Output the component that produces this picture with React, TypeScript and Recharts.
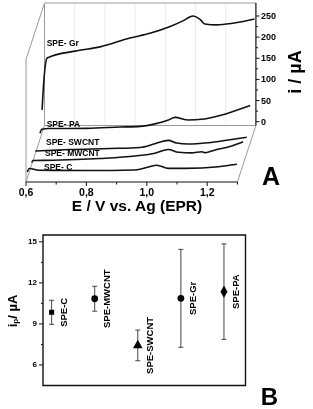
import React from "react";
import {
  LineChart,
  Line,
  XAxis,
  YAxis,
  ReferenceLine,
  ComposedChart,
  Scatter,
  ErrorBar,
  ReferenceArea,
  Symbols,
} from "recharts";

// ---- panel A: voltammograms, E / V and i / µA (each i relative to its own baseline)
const grE = [0.592, 0.598, 0.608, 0.613, 0.701, 0.784, 0.883, 0.949, 1.016, 1.06, 1.091, 1.115, 1.131, 1.17, 1.224, 1.295];
const grI = [28, 98, 150, 152, 167, 177, 198, 209, 225, 239, 250, 242, 231, 229, 233, 243];

const paE = [0.595, 0.601, 0.623, 0.75, 0.86, 0.926, 0.976, 1.02, 1.042, 1.086, 1.131, 1.197, 1.241, 1.291];
const paI = [-6, 3.3, 5.2, 5.7, 8.8, 10.4, 16.3, 25.3, 31.7, 25.3, 27, 37, 47.3, 59.6];

const swE = [0.601, 0.716, 0.848, 0.947, 0.997, 1.041, 1.069, 1.107, 1.173, 1.24, 1.301];
const swI = [-1.2, 2.4, 4.7, 7.1, 16, 24, 17.7, 15.4, 18.4, 24.8, 31.2];

const mwE = [0.6, 0.604, 0.671, 0.826, 0.942, 1.008, 1.052, 1.086, 1.13, 1.163, 1.174, 1.207, 1.262, 1.3];
const mwI = [-4.3, 0.5, 1, 5.2, 11.1, 17.5, 26.3, 19.9, 18.4, 21.3, 18.9, 25.3, 34.8, 44.9];

const cE = [0.597, 0.604, 0.639, 0.794, 0.954, 0.998, 1.026, 1.064, 1.12, 1.23, 1.291];
const cI = [-1.4, 6.9, 2.6, 2.1, 3.3, 10.4, 14.7, 7.3, 7.3, 11.1, 16.8];

const curveNames = ["SPE- Gr", "SPE- PA", "SPE- SWCNT", "SPE- MWCNT", "SPE- C"];
const curveE = [grE, paE, swE, mwE, cE];
const curveI = [grI, paI, swI, mwI, cI];

const eTicks = [0.6, 0.7, 0.8, 0.9, 1.0, 1.1, 1.2, 1.3];
const iTicks = [0, 25, 50, 75, 100, 125, 150, 175, 200, 225, 250];

// ---- panel B: peak currents
const ipNames = ["SPE-C", "SPE-MWCNT", "SPE-SWCNT", "SPE-Gr", "SPE-PA"];
const ipMean = [9.85, 10.84, 7.43, 10.87, 11.36];
const ipErr = [0.88, 0.91, 1.12, 3.58, 3.49];
const ipTicks = [6, 7.5, 9, 10.5, 12, 13.5, 15];

// ---- layout of the pseudo-3D box (pixels)
const PLOT_L = 26;
const PLOT_R = 256;
const PLOT_T = 3;
const PLOT_B = 182;
const TOP_H = 200;
const PX_PER_V = 302;
const PX_PER_UA = 0.4228;
const DEPTH_DX = 18.5;
const DEPTH_DY = 56.5;
const BACK_X0 = 44.5; // 0.6 V on the back wall
const BACK_Y0 = 121.7; // 0 µA on the back wall
const curveDepth = [0, 0.16, 0.51, 0.69, 0.88];

const E_LO = 0.6;
const E_HI = 1.3;
const I_HI = (BACK_Y0 - PLOT_T) / PX_PER_UA;
const I_LO = (BACK_Y0 + DEPTH_DY - PLOT_B) / PX_PER_UA;

const xDomain = (t: number): [number, number] => {
  const lo = E_LO - (BACK_X0 - DEPTH_DX * t - PLOT_L) / PX_PER_V;
  return [lo, lo + (PLOT_R - PLOT_L) / PX_PER_V];
};
const yDomain = (t: number): [number, number] => {
  const y0 = BACK_Y0 + DEPTH_DY * t;
  return [(y0 - PLOT_B) / PX_PER_UA, (y0 - PLOT_T) / PX_PER_UA];
};
// point at depth t expressed in back-wall coordinates
const toBack = (e: number, i: number, t: number) => ({
  x: e - (DEPTH_DX * t) / PX_PER_V,
  y: i - (DEPTH_DY * t) / PX_PER_UA,
});

const GRAY = "#9a9a9a";
const INK = "#111";
const FONT = "Arial, 'Liberation Sans', sans-serif";

const boxEdges = [
  { a: [E_LO, I_HI, 0], b: [E_HI, I_HI, 0], c: GRAY },
  { a: [E_LO, I_LO, 0], b: [E_LO, I_HI, 0], c: GRAY },
  { a: [E_LO, I_LO, 0], b: [E_HI, I_LO, 0], c: GRAY },
  { a: [E_LO, I_HI, 0], b: [E_LO, I_HI, 1], c: GRAY },
  { a: [E_LO, I_LO, 1], b: [E_LO, I_HI, 1], c: GRAY },
  { a: [E_LO, I_LO, 0], b: [E_LO, I_LO, 1], c: GRAY },
  { a: [E_HI, I_LO, 0], b: [E_HI, I_LO, 1], c: GRAY },
  { a: [E_HI, I_LO, 0], b: [E_HI, I_HI, 0], c: INK },
  { a: [E_LO, I_LO, 1], b: [E_HI, I_LO, 1], c: INK },
];

function FrontTick({ x, y, payload }: any) {
  const v = payload.value as number;
  const major = Math.round(v * 10) % 2 === 0;
  return (
    <g>
      <line x1={x} y1={y} x2={x} y2={y + (major ? 4 : 2.5)} stroke={INK} />
      {major && (
        <text x={x} y={y + 14} textAnchor="middle" fontSize={10.5} fontWeight="bold" fill="#000">
          {v.toFixed(1).replace(".", ",")}
        </text>
      )}
    </g>
  );
}

function RightTick({ x, y, payload }: any) {
  const v = payload.value as number;
  const major = v % 50 === 0;
  return (
    <g>
      <line x1={x} y1={y} x2={x + (major ? 3.5 : 2)} y2={y} stroke={INK} />
      {major && (
        <text x={x + 5} y={y} dominantBaseline="central" fontSize={9} fontWeight="bold" fill="#000">
          {v}
        </text>
      )}
    </g>
  );
}

function LeftTick({ x, y, payload }: any) {
  const v = payload.value as number;
  const major = v % 3 === 0;
  return (
    <g>
      <line x1={x - (major ? 4 : 2)} y1={y} x2={x} y2={y} stroke={INK} />
      {major && (
        <text x={x - 6} y={y} textAnchor="end" dominantBaseline="central" fontSize={8} fontWeight="bold" fill="#000">
          {v}
        </text>
      )}
    </g>
  );
}

const markerType = ["square", "circle", "triangle", "circle", "diamond"];
const markerArea = [26, 36, 40, 36, 42];

function PointMark({ cx, cy, payload, symbol, area }: any) {
  return (
    <g>
      <Symbols cx={cx} cy={cy} type={symbol} size={area} fill="#000" />
      <text
        transform={`translate(${cx + 12},${cy}) rotate(-90)`}
        textAnchor="middle"
        dominantBaseline="central"
        fontSize={9.5}
        fontWeight="bold"
        fill="#000"
      >
        {payload.name}
      </text>
    </g>
  );
}

export default function App() {
  const layers = curveDepth.map((t, k) => ({ id: `L${k}`, t }));
  const series = curveNames.map((name, k) => ({
    name,
    id: `L${k}`,
    rows: curveE[k].map((e, j) => ({ E: e, i: curveI[k][j] })),
  }));
  const ipRows = ipNames.map((name, k) => ({ x: k + 1, y: ipMean[k], err: ipErr[k], name }));

  return (
    <div
      style={{
        position: "absolute",
        left: 0,
        top: 0,
        width: 313,
        height: 409,
        background: "#fff",
        fontFamily: FONT,
        filter: "grayscale(1)",
      }}
    >
      <div style={{ position: "absolute", left: 0, top: 0 }}>
        <LineChart width={313} height={TOP_H} margin={{ top: PLOT_T, right: 0, bottom: 0, left: PLOT_L }}>
          <XAxis
            xAxisId="front"
            type="number"
            dataKey="E"
            domain={xDomain(1)}
            allowDataOverflow
            ticks={eTicks}
            interval={0}
            axisLine={false}
            tickLine={false}
            tickSize={0}
            tickMargin={0}
            height={TOP_H - PLOT_B}
            tick={<FrontTick />}
          />
          {layers.map((l) => (
            <XAxis key={l.id} xAxisId={l.id} type="number" dataKey="E" domain={xDomain(l.t)} allowDataOverflow hide height={0} />
          ))}
          <YAxis
            yAxisId="L0"
            orientation="right"
            type="number"
            domain={yDomain(0)}
            allowDataOverflow
            ticks={iTicks}
            interval={0}
            axisLine={false}
            tickLine={false}
            tickSize={0}
            tickMargin={0}
            width={313 - PLOT_R}
            tick={<RightTick />}
          />
          {layers.slice(1).map((l) => (
            <YAxis key={l.id} yAxisId={l.id} type="number" domain={yDomain(l.t)} allowDataOverflow hide width={0} />
          ))}
          {[0.7, 0.8, 0.9, 1.0, 1.1, 1.2].map((e) => (
            <ReferenceLine
              key={`g${e}`}
              xAxisId="L0"
              yAxisId="L0"
              segment={[{ x: e, y: I_LO }, { x: e, y: I_HI }]}
              stroke="#ececec"
              strokeWidth={1}
              ifOverflow="visible"
            />
          ))}
          {boxEdges.map((s, k) => (
            <ReferenceLine
              key={`b${k}`}
              xAxisId="L0"
              yAxisId="L0"
              segment={[toBack(s.a[0], s.a[1], s.a[2]), toBack(s.b[0], s.b[1], s.b[2])]}
              stroke={s.c}
              strokeWidth={s.c === INK ? 1.2 : 1}
              ifOverflow="visible"
            />
          ))}
          {series.map((s) => (
            <Line
              key={s.name}
              data={s.rows}
              dataKey="i"
              xAxisId={s.id}
              yAxisId={s.id}
              type="monotone"
              stroke={INK}
              strokeWidth={1.6}
              dot={false}
              isAnimationActive={false}
            />
          ))}
        </LineChart>
      </div>

      <div style={{ position: "absolute", left: 0, top: 215 }}>
        <ComposedChart width={313} height={175} margin={{ top: 20, right: 67.5, bottom: 4.5, left: 0 }}>
          <XAxis type="number" dataKey="x" domain={[0.8, 5.5]} allowDataOverflow hide height={0} />
          <YAxis
            type="number"
            dataKey="y"
            domain={[4.5, 15.5]}
            allowDataOverflow
            ticks={ipTicks}
            interval={0}
            width={43}
            axisLine={false}
            tickLine={false}
            tickSize={0}
            tickMargin={0}
            tick={<LeftTick />}
          />
          <ReferenceArea x1={0.8} x2={5.5} y1={4.5} y2={15.5} fill="none" stroke={INK} strokeWidth={1.4} ifOverflow="visible" />
          {ipRows.map((r, k) => (
            <Scatter
              key={r.name}
              data={[r]}
              isAnimationActive={false}
              shape={(p: any) => <PointMark {...p} symbol={markerType[k]} area={markerArea[k]} />}
            >
              <ErrorBar dataKey="err" direction="y" width={2.5} stroke="#444" strokeWidth={1} />
            </Scatter>
          ))}
        </ComposedChart>
      </div>

      <svg width={313} height={409} style={{ position: "absolute", left: 0, top: 0, pointerEvents: "none" }}>
        <g fontWeight="bold" fill="#000" fontSize={8.5}>
          <text x={46.7} y={46.3}>SPE- Gr</text>
          <text x={46.7} y={127}>SPE- PA</text>
          <text x={46} y={144.7}>SPE- SWCNT</text>
          <text x={45} y={155.7}>SPE- MWCNT</text>
          <text x={44} y={169.7}>SPE- C</text>
        </g>
        <text x={137} y={211} textAnchor="middle" fontSize={15.5} fontWeight="bold">
          E / V vs. Ag (EPR)
        </text>
        <text transform="translate(295,72) rotate(-90)" textAnchor="middle" dominantBaseline="central" fontSize={18} fontWeight="bold">
          i / µA
        </text>
        <text x={271} y={185} textAnchor="middle" fontSize={25} fontWeight="bold">
          A
        </text>
        <text transform="translate(12,311) rotate(-90)" textAnchor="middle" dominantBaseline="central" fontSize={13} fontWeight="bold">
          i<tspan fontSize={8} dy={3}>p</tspan>
          <tspan dy={-3}>/ µA</tspan>
        </text>
        <text x={269.5} y={405} textAnchor="middle" fontSize={24} fontWeight="bold">
          B
        </text>
      </svg>
    </div>
  );
}
